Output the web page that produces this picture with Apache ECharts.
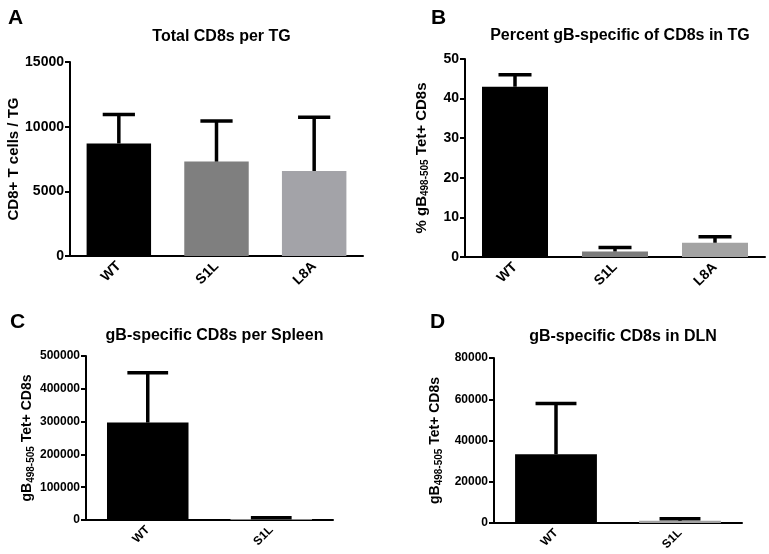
<!DOCTYPE html>
<html><head><meta charset="utf-8">
<script src="https://cdn.jsdelivr.net/npm/echarts@6/dist/echarts.min.js"></script>
<style>html,body{margin:0;padding:0;background:#fff}#c{width:769px;height:554px}</style>
</head><body><div id="c"></div>
<script>
// Panel A: Total CD8s per TG
const catsA = ['WT', 'S1L', 'L8A'];
const meanA = [8700, 7300, 6570];
const errA = [2250, 3140, 4150];
// Panel B: Percent gB-specific of CD8s in TG
const catsB = ['WT', 'S1L', 'L8A'];
const meanB = [43, 1.4, 3.6];
const errB = [3, 1.0, 1.5];
// Panel C: gB-specific CD8s per Spleen
const catsC = ['WT', 'S1L'];
const meanC = [297000, 3000];
const errC = [152000, 3500];
// Panel D: gB-specific CD8s in DLN
const catsD = ['WT', 'S1L'];
const meanD = [33300, 1100];
const errD = [24700, 1000];

const colorsA = ['#000000', '#7f7f7f', '#a3a3a8'];
const colorsB = ['#000000', '#7c7c7c', '#a3a3a3'];
const colorsC = ['#000000', '#8a8a8a'];
const colorsD = ['#000000', '#a3a3a3'];

const FONT = '"Liberation Sans", Arial, sans-serif';
const chart = echarts.init(document.getElementById('c'), null, {renderer: 'canvas'});

const grids = [
  {left: 70, top: 62, width: 293, height: 194},
  {left: 465, top: 59, width: 300, height: 198},
  {left: 86, top: 356, width: 247, height: 164},
  {left: 494, top: 358, width: 248, height: 165}
];
const cats = [catsA, catsB, catsC, catsD];
const means = [meanA, meanB, meanC, meanD];
const errs = [errA, errB, errC, errD];
const cols = [colorsA, colorsB, colorsC, colorsD];
const yMax = [15000, 50, 500000, 80000];
const yInt = [5000, 10, 100000, 20000];
const tickFont = [14, 14, 12, 12];
const xFont = [14, 14, 12, 12];
const yNames = [
  'CD8+ T cells / TG',
  '{a|% gB}{s|498-505}{a| Tet+ CD8s}',
  '{a|gB}{s|498-505}{a| Tet+ CD8s}',
  '{a|gB}{s|498-505}{a| Tet+ CD8s}'
];
const nameGaps = [49, 35, 50, 50];
const nameSize = [15, 15, 14, 14];
const subSize = [10, 10, 10, 10];

const xAxis = [], yAxis = [], series = [];
for (let i = 0; i < 4; i++) {
  xAxis.push({
    type: 'category', gridIndex: i, data: cats[i],
    axisLine: {lineStyle: {color: '#000', width: 2}},
    axisTick: {alignWithLabel: true, length: 5, lineStyle: {color: '#000', width: 2}},
    axisLabel: {rotate: 45, color: '#000', fontWeight: 'bold', fontFamily: FONT, fontSize: xFont[i], margin: 8}
  });
  yAxis.push({
    type: 'value', gridIndex: i, min: 0, max: yMax[i], interval: yInt[i],
    splitLine: {show: false},
    axisLine: {show: true, lineStyle: {color: '#000', width: 2}},
    axisTick: {show: true, length: 5, lineStyle: {color: '#000', width: 2}},
    axisLabel: {color: '#000', fontWeight: 'bold', fontFamily: FONT, fontSize: tickFont[i], margin: 6,
      formatter: v => String(v)},
    name: yNames[i], nameLocation: 'middle', nameGap: nameGaps[i], nameRotate: 90,
    nameTextStyle: {
      color: '#000', fontWeight: 'bold', fontFamily: FONT, fontSize: nameSize[i],
      rich: {
        a: {color: '#000', fontWeight: 'bold', fontFamily: FONT, fontSize: nameSize[i]},
        s: {color: '#000', fontWeight: 'bold', fontFamily: FONT, fontSize: subSize[i], verticalAlign: 'bottom', padding: [7, 0, 0, 0]}
      }
    }
  });
  const c = cols[i];
  series.push({
    type: 'bar', xAxisIndex: i, yAxisIndex: i, barWidth: '66%',
    data: means[i].map((v, k) => ({value: v, itemStyle: {color: c[k]}})),
    z: 2
  });
  const m = means[i], e = errs[i];
  series.push({
    type: 'custom', xAxisIndex: i, yAxisIndex: i, z: 3,
    data: m.map((v, k) => [k, v, v + e[k]]),
    renderItem: function (params, api) {
      const k = api.value(0);
      const base = api.coord([k, api.value(1)]);
      const top = api.coord([k, api.value(2)]);
      const bw = api.size([1, 0])[0] * 0.66;
      const hw = bw / 4;
      const st = {stroke: '#000', lineWidth: 3.5};
      return {
        type: 'group',
        children: [
          {type: 'line', shape: {x1: base[0], y1: base[1], x2: top[0], y2: top[1]}, style: st},
          {type: 'line', shape: {x1: top[0] - hw, y1: top[1], x2: top[0] + hw, y2: top[1]}, style: st}
        ]
      };
    }
  });
}

const titleTexts = ['Total CD8s per TG', 'Percent gB-specific of CD8s in TG', 'gB-specific CD8s per Spleen', 'gB-specific CD8s in DLN'];
const titleTops = [24, 23, 323, 324];
const letters = ['A', 'B', 'C', 'D'];
const letterPos = [[3, 3], [426, 3], [5, 307], [425, 307]];
const title = [];
for (let i = 0; i < 4; i++) {
  title.push({
    text: titleTexts[i], left: grids[i].left + grids[i].width / 2, top: titleTops[i], textAlign: 'center',
    textStyle: {color: '#000', fontWeight: 'bold', fontFamily: FONT, fontSize: 16}
  });
  title.push({
    text: letters[i], left: letterPos[i][0], top: letterPos[i][1],
    textStyle: {color: '#000', fontWeight: 'bold', fontFamily: FONT, fontSize: 21}
  });
}

chart.setOption({
  animation: false,
  backgroundColor: '#fff',
  title: title,
  grid: grids.map(g => Object.assign({containLabel: false}, g)),
  xAxis: xAxis, yAxis: yAxis, series: series
});
</script></body></html>
